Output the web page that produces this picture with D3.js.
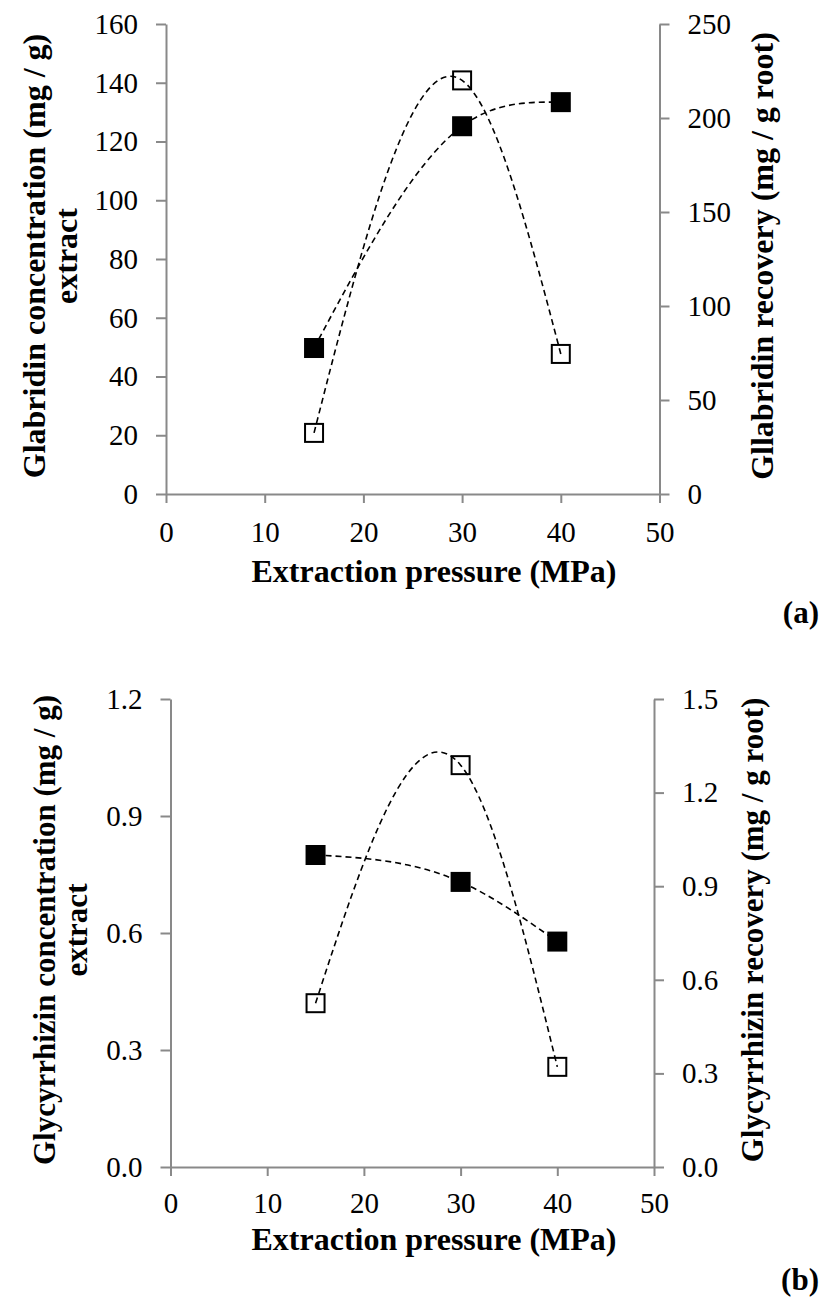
<!DOCTYPE html>
<html>
<head>
<meta charset="utf-8">
<script src="https://cdn.jsdelivr.net/npm/d3@7/dist/d3.min.js"></script>
<style>
  html, body { margin: 0; padding: 0; background: #fff; }
  svg { display: block; }
</style>
</head>
<body>
<svg id="chart" width="823" height="1307"></svg>
<script>
// ---------------- data ----------------
const pressure = [15, 30, 40];
const xTickValues = [0, 10, 20, 30, 40, 50];

// (a) Glabridin
const glabridinConcentration = [49.7, 125.2, 133.4];   // left axis, mg/g extract (filled squares)
const glabridinRecovery = [32.5, 220, 74.5];           // right axis, mg/g root (open squares)
const glabridinLeftTicks = [0, 20, 40, 60, 80, 100, 120, 140, 160];
const glabridinRightTicks = [0, 50, 100, 150, 200, 250];

// (b) Glycyrrhizin
const glycyrrhizinConcentration = [0.80, 0.731, 0.578];
const glycyrrhizinRecovery = [0.525, 1.288, 0.321];
const glycyrrhizinLeftTicks = [0, 0.3, 0.6, 0.9, 1.2];
const glycyrrhizinRightTicks = [0, 0.3, 0.6, 0.9, 1.2, 1.5];

const FONT = "'Liberation Serif', Tinos, 'Times New Roman', Times, 'DejaVu Serif', serif";

// ------------- smoothing curve: natural cubic spline of y as a function of x -------------
function NaturalX(context) { this._context = context; }
NaturalX.prototype = {
  areaStart() { this._line = 0; },
  areaEnd() { this._line = NaN; },
  lineStart() { this._x = []; this._y = []; },
  point(x, y) { this._x.push(+x); this._y.push(+y); },
  lineEnd() {
    const X = this._x, Y = this._y, n = X.length, c = this._context;
    if (!n) return;
    c.moveTo(X[0], Y[0]);
    if (n === 1) return;
    if (n === 2) { c.lineTo(X[1], Y[1]); return; }
    const h = [], M = new Array(n).fill(0);
    for (let i = 0; i < n - 1; i++) h.push(X[i + 1] - X[i]);
    const m = n - 2, a = [], b = [], cc = [], r = [];
    for (let i = 1; i <= m; i++) {
      a.push(h[i - 1]); b.push(2 * (h[i - 1] + h[i])); cc.push(h[i]);
      r.push(6 * ((Y[i + 1] - Y[i]) / h[i] - (Y[i] - Y[i - 1]) / h[i - 1]));
    }
    for (let i = 1; i < m; i++) { const w = a[i] / b[i - 1]; b[i] -= w * cc[i - 1]; r[i] -= w * r[i - 1]; }
    const sol = new Array(m);
    sol[m - 1] = r[m - 1] / b[m - 1];
    for (let i = m - 2; i >= 0; i--) sol[i] = (r[i] - cc[i] * sol[i + 1]) / b[i];
    for (let i = 0; i < m; i++) M[i + 1] = sol[i];
    const d = [];
    for (let i = 0; i < n - 1; i++) d.push((Y[i + 1] - Y[i]) / h[i] - h[i] * (2 * M[i] + M[i + 1]) / 6);
    d.push((Y[n - 1] - Y[n - 2]) / h[n - 2] + h[n - 2] * (2 * M[n - 1] + M[n - 2]) / 6);
    for (let i = 0; i < n - 1; i++) {
      const t = h[i] / 3;
      c.bezierCurveTo(X[i] + t, Y[i] + d[i] * t, X[i + 1] - t, Y[i + 1] - d[i + 1] * t, X[i + 1], Y[i + 1]);
    }
  }
};
const curveNaturalX = ctx => new NaturalX(ctx);

const svg = d3.select("#chart");
const AXIS = "#898989";

function panel(cfg) {
  const g = svg.append("g");
  const x = d3.scaleLinear().domain([0, 50]).range([cfg.left, cfg.right]);
  const yL = d3.scaleLinear().domain(cfg.leftDomain).range([cfg.bottom, cfg.top]);
  const yR = d3.scaleLinear().domain(cfg.rightDomain).range([cfg.bottom, cfg.top]);

  const styleAxis = sel => {
    sel.attr("font-family", null);
    sel.select(".domain").attr("stroke", AXIS).attr("stroke-width", 2);
    sel.selectAll(".tick line").attr("stroke", AXIS).attr("stroke-width", 2);
    sel.selectAll(".tick text").style("font-family", FONT).style("font-size", cfg.tickFont + "px").attr("fill", "#000");
  };

  g.append("g").attr("transform", `translate(0,${cfg.bottom})`)
    .call(d3.axisBottom(x).tickValues(xTickValues).tickSize(9).tickSizeOuter(0).tickPadding(cfg.xPad).tickFormat(d3.format("d")))
    .call(styleAxis);
  g.append("g").attr("transform", `translate(${cfg.left},0)`)
    .call(d3.axisLeft(yL).tickValues(cfg.leftTicks).tickSize(10).tickSizeOuter(0).tickPadding(cfg.yPad).tickFormat(d3.format(cfg.fmtL)))
    .call(styleAxis);
  g.append("g").attr("transform", `translate(${cfg.right},0)`)
    .call(d3.axisRight(yR).tickValues(cfg.rightTicks).tickSize(10).tickSizeOuter(0).tickPadding(cfg.yPad).tickFormat(d3.format(cfg.fmtR)))
    .call(styleAxis);

  const concPts = pressure.map((p, i) => [x(p), yL(cfg.conc[i])]);
  const recPts = pressure.map((p, i) => [x(p), yR(cfg.rec[i])]);
  const line = d3.line().curve(curveNaturalX);
  [concPts, recPts].forEach(pts => {
    g.append("path").attr("d", line(pts)).attr("fill", "none")
      .attr("stroke", "#000").attr("stroke-width", 1.6).attr("stroke-dasharray", "6,4");
  });
  const S = 20;
  g.selectAll(".conc").data(concPts).enter().append("rect")
    .attr("x", d => d[0] - S / 2).attr("y", d => d[1] - S / 2)
    .attr("width", S).attr("height", S).attr("fill", "#000");
  const So = 18;
  g.selectAll(".rec").data(recPts).enter().append("rect")
    .attr("x", d => d[0] - So / 2).attr("y", d => d[1] - So / 2)
    .attr("width", So).attr("height", So).attr("fill", "none")
    .attr("stroke", "#000").attr("stroke-width", 2);

  const txt = (sel, size) => sel.style("font-family", FONT).style("font-size", size + "px")
    .style("font-weight", "bold").attr("fill", "#000");

  g.append("text").attr("x", 434).attr("y", cfg.xTitleY).attr("text-anchor", "middle")
    .call(txt, 32).text("Extraction pressure (MPa)");
  const lt = g.append("g").attr("transform", `translate(0,${cfg.yTitleCenter}) rotate(-90)`);
  lt.append("text").attr("x", 0).attr("y", cfg.lBase1).attr("text-anchor", "middle")
    .call(txt, cfg.yTitleFont).text(cfg.leftTitle1);
  lt.append("text").attr("x", 0).attr("y", cfg.lBase2).attr("text-anchor", "middle")
    .call(txt, cfg.yTitleFont).text(cfg.leftTitle2);
  g.append("g").attr("transform", `translate(0,${cfg.yTitleCenter}) rotate(-90)`)
    .append("text").attr("x", 0).attr("y", cfg.rBase).attr("text-anchor", "middle")
    .call(txt, cfg.yTitleFont).text(cfg.rightTitle);
  g.append("text").attr("x", 819).attr("y", cfg.labelY).attr("text-anchor", "end")
    .call(txt, 31).text(cfg.label);
}

panel({
  left: 166, right: 659.5, top: 24, bottom: 494,
  leftDomain: [0, 160], rightDomain: [0, 250],
  leftTicks: glabridinLeftTicks, rightTicks: glabridinRightTicks, fmtL: "d", fmtR: "d",
  conc: glabridinConcentration, rec: glabridinRecovery,
  tickFont: 29, xPad: 18, yPad: 18,
  xTitleY: 582, yTitleCenter: 256, lBase1: 45, lBase2: 77, rBase: 773, yTitleFont: 32,
  leftTitle1: "Glabridin concentration (mg / g)", leftTitle2: "extract",
  rightTitle: "Gllabridin recovery (mg / g root)",
  label: "(a)", labelY: 623
});

panel({
  left: 170.5, right: 654, top: 699, bottom: 1167,
  leftDomain: [0, 1.2], rightDomain: [0, 1.5],
  leftTicks: glycyrrhizinLeftTicks, rightTicks: glycyrrhizinRightTicks, fmtL: ".1f", fmtR: ".1f",
  conc: glycyrrhizinConcentration, rec: glycyrrhizinRecovery,
  tickFont: 29, xPad: 16, yPad: 18,
  xTitleY: 1250, yTitleCenter: 930, lBase1: 55, lBase2: 87, rBase: 763, yTitleFont: 31,
  leftTitle1: "Glycyrrhizin concentration (mg / g)", leftTitle2: "extract",
  rightTitle: "Glycyrrhizin recovery (mg / g root)",
  label: "(b)", labelY: 1290
});
</script>
</body>
</html>
